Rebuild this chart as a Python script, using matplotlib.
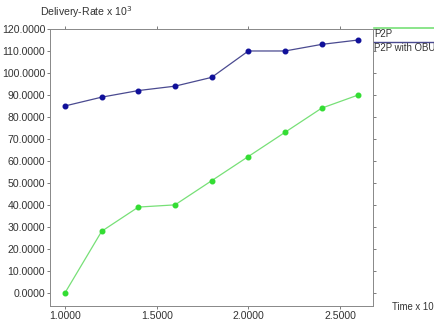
import matplotlib
matplotlib.use("Agg")
import matplotlib.pyplot as plt
from matplotlib.lines import Line2D

time = [1.0, 1.2, 1.4, 1.6, 1.8, 2.0, 2.2, 2.4, 2.6]
p2p = [0, 28, 39, 40, 51, 62, 73, 84, 90]
p2p_obu = [85, 89, 92, 94, 98, 110, 110, 113, 115]
xticks = [1.0, 1.5, 2.0, 2.5]
yticks = [0, 10, 20, 30, 40, 50, 60, 70, 80, 90, 100, 110, 120]
series_names = ["P2P", "P2P with OBU"]

plt.rcParams['font.family'] = ['Liberation Sans', 'DejaVu Sans']
FS = 7.6
FS_SIDE = 6.9
fig = plt.figure(figsize=(4.35, 3.22), dpi=100)
ax = fig.add_axes([50/435, 1-306/322, (373-50)/435, (306-29)/322])

green = '#33dd33'
green_line = '#77e077'
blue = '#10109a'
blue_line = '#4a4a90'

ax.plot(time, p2p, color=green_line, lw=0.9, zorder=2)
ax.plot(time, p2p, 'o', color=green, ms=3.3, zorder=3)
ax.plot(time, p2p_obu, color=blue_line, lw=0.9, zorder=2)
ax.plot(time, p2p_obu, 'o', color=blue, ms=3.3, zorder=3)

ax.set_xlim(0.918, 2.68)
ax.set_ylim(-6, 120)
ax.set_xticks(xticks)
ax.set_xticklabels([f"{v:.4f}" for v in xticks])
ax.set_yticks(yticks)
ax.set_yticklabels([f"{v:.4f}" for v in yticks])
ax.tick_params(axis='both', labelsize=FS, colors='#666666', labelcolor='#333333',
               length=2.5, width=0.6, direction='out', pad=1)
ax.tick_params(axis='both', which='both', top=True, right=True)
for s in ax.spines.values():
    s.set_linestyle((0, (1, 1)))
    s.set_color('#888888')
    s.set_linewidth(0.7)

fig.text(40/435, 1-12/322, "Delivery-Rate x 10$^3$", fontsize=FS, color='#333333', va='center', ha='left')
fig.text(434/435, 1-307/322, "Time x 10", fontsize=FS_SIDE, color='#333333', va='center', ha='right')

# legend outside right
fig.add_artist(Line2D([374/435, 1.0], [1-28/322, 1-28/322], color=green_line, lw=1.2))
fig.text(374.5/435, 1-34/322, series_names[0], fontsize=FS_SIDE, color='#333333', va='center', ha='left')
fig.add_artist(Line2D([374/435, 1.0], [1-42/322, 1-42/322], color=blue_line, lw=1.0))
fig.text(374.5/435, 1-48/322, series_names[1], fontsize=FS_SIDE, color='#333333', va='center', ha='left')

fig.savefig("out.png", dpi=100, facecolor='white')
